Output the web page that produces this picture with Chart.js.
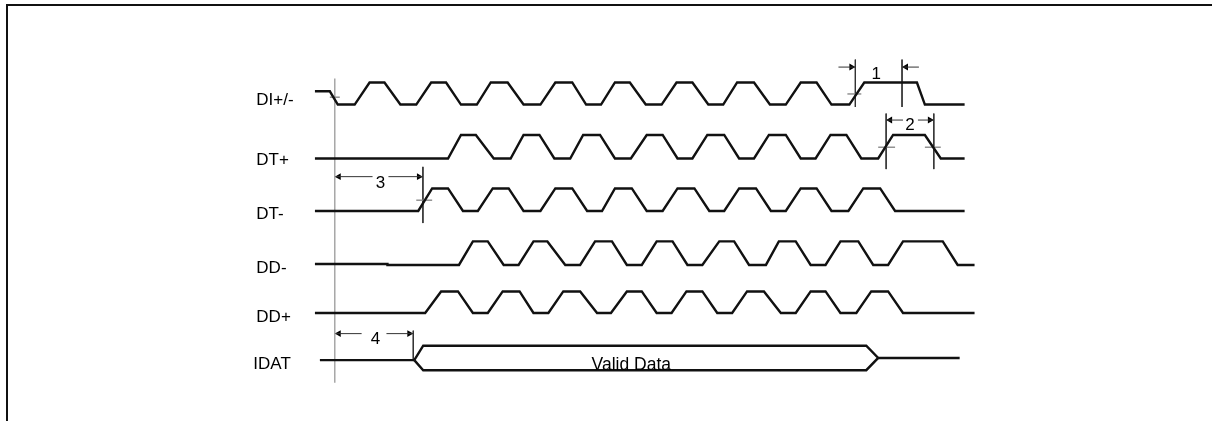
<!DOCTYPE html>
<html>
<head>
<meta charset="utf-8">
<script src="https://cdn.jsdelivr.net/npm/chart.js@4.4.1/dist/chart.umd.min.js"></script>
<style>
  html, body { margin: 0; padding: 0; background: #fff; overflow: hidden; }
  #wrap { position: relative; width: 1212px; height: 421px; }
  #frame { position: absolute; left: 6px; top: 4px; width: 1300px; height: 500px;
           border-top: 2px solid #111; border-left: 2px solid #111; }
  #timing { position: absolute; left: 0; top: 0; }
</style>
</head>
<body>
<div id="wrap">
  <div id="frame"></div>
  <canvas id="timing" width="1212" height="421"></canvas>
</div>
<script>
// signal names, top to bottom
const signalNames = ['DI+/-', 'DT+', 'DT-', 'DD-', 'DD+', 'IDAT'];

// corner times of each waveform and the logic level at each corner (0 low, 1 high)
const diT = [313, 328, 336, 353, 368, 383, 399, 415, 430, 445, 460, 476, 490, 507, 523, 540, 555, 572, 586, 601,
             615, 630, 646, 662, 677, 693, 709, 724, 738, 755, 771, 787, 802, 818, 833, 851, 866, 919, 927, 967];
const diLevel = [0.6, 0.6, 0, 0, 1, 1, 0, 0, 1, 1, 0, 0, 1, 1, 0, 0, 1, 1, 0, 0,
                 1, 1, 0, 0, 1, 1, 0, 0, 1, 1, 0, 0, 1, 1, 0, 0, 1, 1, 0, 0];

const dtpT = [313, 447, 460, 475, 493, 510, 523, 539, 554, 570, 583, 600, 615, 631, 647, 663, 678,
              693, 708, 725, 740, 755, 770, 787, 802, 817, 832, 848, 863, 880, 895, 927, 943, 967];
const dtpLevel = [0, 0, 1, 1, 0, 0, 1, 1, 0, 0, 1, 1, 0, 0, 1, 1, 0,
                  0, 1, 1, 0, 0, 1, 1, 0, 0, 1, 1, 0, 0, 1, 1, 0, 0];

const dtmT = [313, 417, 431, 447, 462, 477, 492, 508, 523, 540, 555, 572, 587, 602, 615, 632, 647,
              663, 678, 695, 710, 725, 740, 757, 772, 787, 802, 818, 833, 850, 865, 882, 897, 967];
const dtmLevel = [0, 0, 1, 1, 0, 0, 1, 1, 0, 0, 1, 1, 0, 0, 1, 1, 0,
                  0, 1, 1, 0, 0, 1, 1, 0, 0, 1, 1, 0, 0, 1, 1, 0, 0];

const ddmT = [313, 386, 386, 458, 472, 487, 503, 518, 533, 547, 565, 580, 595, 612, 627, 642, 657, 673,
              688, 703, 720, 735, 750, 767, 780, 797, 812, 827, 842, 860, 875, 890, 905, 945, 960, 977];
const ddmLevel = [0.04, 0.04, 0, 0, 1, 1, 0, 0, 1, 1, 0, 0, 1, 1, 0, 0, 1, 1,
                  0, 0, 1, 1, 0, 0, 1, 1, 0, 0, 1, 1, 0, 0, 1, 1, 0, 0];

const ddpT = [313, 424, 440, 457, 472, 487, 502, 519, 533, 548, 563, 580, 597, 611, 627, 642, 657,
              672, 687, 703, 718, 733, 748, 765, 782, 797, 812, 827, 842, 858, 873, 890, 905, 977];
const ddpLevel = [0, 0, 1, 1, 0, 0, 1, 1, 0, 0, 1, 1, 0, 0, 1, 1, 0,
                  0, 1, 1, 0, 0, 1, 1, 0, 0, 1, 1, 0, 0, 1, 1, 0, 0];

// IDAT: idle lines and the "Valid Data" bus (level +1 top, -1 bottom)
const idatIdleT = [318, 413];
const idatIdleLevel = [-0.18, -0.18];
const idatBusT = [413, 422, 868, 880, 868, 422, 413];
const idatBusLevel = [-0.18, 1, 1, 0, -1, -1, -0.18];
const idatTailT = [880, 962];
const idatTailLevel = [0, 0];
const busText = 'Valid Data';

// timing parameters 1..4: start and end of each measured interval
const markerNames = ['1', '2', '3', '4'];
const markerFrom = [857, 888, 333, 333];
const markerTo = [904, 936, 421.7, 412];

// reference edge
const refT = 333;

// ---- layout ----
const rowLow = [102.5, 157.5, 211, 266, 315];
const rowHigh = [80, 133.5, 188, 242, 293];
const idatMid = 360.8, idatAmp = 12.5;
const labelX = [254, 254, 254, 254, 254, 251];
const labelY = [102.7, 164, 219.5, 274.5, 324.5, 372];
const markerLayout = [
  { y: 64.3, out: true, reach: 17, lx: 878, ly: 76.7, top: 56.7, bot: 105, both: true },
  { y: 118.3, gap: [905, 920], lx: 912, ly: 128.3, top: 111.7, bot: 168.3, both: true },
  { y: 176, gap: [371, 387], lx: 379, ly: 187.7, top: 166, bot: 223.3, both: false },
  { y: 336, gap: [360, 385], lx: 374, ly: 346.7, top: 333, bot: 363, both: false }
];
const crossTicks = [[328, 338, 95], [849, 863, 91.7], [880, 897, 146], [927, 943, 146], [415, 431, 200]];
const FONT = '"Liberation Sans", Arial, Helvetica, sans-serif';

const pts = (t, lv, low, high) => t.map((x, i) => ({ x, y: low - lv[i] * (low - high) }));
const busPts = (t, lv) => t.map((x, i) => ({ x, y: idatMid - lv[i] * idatAmp }));

const waveStyle = { showLine: true, pointRadius: 0, borderColor: '#111', borderWidth: 2.4,
                    borderJoinStyle: 'miter', tension: 0, fill: false };
const thin = (data, color, w) => ({ data, showLine: true, pointRadius: 0, borderColor: color,
                                    borderWidth: w, tension: 0, fill: false });

const datasets = [];
[[diT, diLevel], [dtpT, dtpLevel], [dtmT, dtmLevel], [ddmT, ddmLevel], [ddpT, ddpLevel]].forEach(([t, lv], r) => {
  datasets.push(Object.assign({ label: signalNames[r], data: pts(t, lv, rowLow[r], rowHigh[r]) }, waveStyle));
});
datasets.push(Object.assign({ label: 'IDAT', data: busPts(idatIdleT, idatIdleLevel) }, waveStyle));
datasets.push(Object.assign({ label: 'IDAT bus', data: busPts(idatBusT, idatBusLevel) }, waveStyle));
datasets.push(Object.assign({ label: 'IDAT tail', data: busPts(idatTailT, idatTailLevel) }, waveStyle));

// reference line and 50% crossing ticks
datasets.push(thin([{ x: refT, y: 76 }, { x: refT, y: 386 }], '#9a9a9a', 1.3));
crossTicks.forEach(([a, b, y]) => datasets.push(thin([{ x: a, y }, { x: b, y }], '#8a8a8a', 1.4)));

// interval markers
const heads = [], headRot = [];
const R = 4;
markerNames.forEach((n, i) => {
  const m = markerLayout[i], a = markerFrom[i], b = markerTo[i];
  if (m.both) datasets.push(thin([{ x: a, y: m.top }, { x: a, y: m.bot }], '#333', 1));
  datasets.push(thin([{ x: b, y: m.top }, { x: b, y: m.bot }], '#333', 1));
  if (m.out) {
    datasets.push(thin([{ x: a - m.reach, y: m.y }, { x: a, y: m.y }], '#333', 1));
    datasets.push(thin([{ x: b, y: m.y }, { x: b + m.reach, y: m.y }], '#333', 1));
    heads.push({ x: a - R, y: m.y }); headRot.push(90);
    heads.push({ x: b + R, y: m.y }); headRot.push(270);
  } else {
    datasets.push(thin([{ x: a, y: m.y }, { x: m.gap[0], y: m.y }], '#333', 1));
    datasets.push(thin([{ x: m.gap[1], y: m.y }, { x: b, y: m.y }], '#333', 1));
    heads.push({ x: a + R, y: m.y }); headRot.push(270);
    heads.push({ x: b - R, y: m.y }); headRot.push(90);
  }
});
datasets.push({ data: heads, showLine: false, pointStyle: 'triangle', pointRadius: R,
                rotation: headRot, backgroundColor: '#000', borderWidth: 0 });

const texts = [];
signalNames.forEach((s, i) => texts.push({ text: s, x: labelX[i], y: labelY[i], size: 17, align: 'left' }));
markerNames.forEach((s, i) => texts.push({ text: s, x: markerLayout[i].lx, y: markerLayout[i].ly, size: 17, align: 'center' }));
texts.push({ text: busText, x: 631.5, y: 373, size: 17.5, align: 'center' });

const textPlugin = {
  id: 'texts',
  afterDatasetsDraw(chart) {
    const { ctx, scales: { x, y } } = chart;
    ctx.save();
    ctx.fillStyle = '#000';
    ctx.textBaseline = 'alphabetic';
    texts.forEach(t => {
      ctx.font = t.size + 'px ' + FONT;
      ctx.textAlign = t.align;
      ctx.fillText(t.text, x.getPixelForValue(t.x), y.getPixelForValue(t.y));
    });
    ctx.restore();
  }
};

new Chart(document.getElementById('timing'), {
  type: 'scatter',
  data: { datasets },
  options: {
    responsive: false,
    animation: false,
    events: [],
    layout: { padding: 0 },
    plugins: { legend: { display: false }, tooltip: { enabled: false } },
    scales: {
      x: { type: 'linear', min: 0, max: 1212, display: false },
      y: { type: 'linear', min: 0, max: 421, reverse: true, display: false }
    }
  },
  plugins: [textPlugin]
});
</script>
</body>
</html>
